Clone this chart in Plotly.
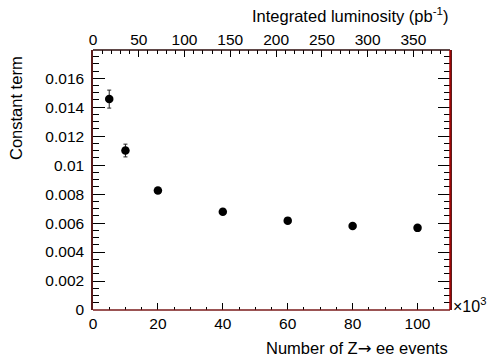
import plotly.graph_objects as go

# Data
n_events_k = [5, 10, 20, 40, 60, 80, 100]          # Number of Z->ee events (x10^3)
constant_term = [0.01456, 0.01101, 0.00825, 0.00678, 0.00617, 0.00580, 0.00567]
constant_err = [0.00062, 0.00044, 0.00020, 0.00015, 0.00012, 0.00010, 0.00010]

x_range = [0, 110]
lumi_range = [0, 390]
y_range = [0, 0.01795]

FONT = "Liberation Sans, Arial, Helvetica, sans-serif"

fig = go.Figure()
fig.add_trace(go.Scatter(
    x=n_events_k, y=constant_term, mode="markers",
    marker=dict(color="black", size=8.5, symbol="circle"),
    error_y=dict(type="data", array=constant_err, visible=True,
                 color="#222222", thickness=1, width=2),
    showlegend=False, hoverinfo="skip"))
# invisible trace to attach the top axis
fig.add_trace(go.Scatter(x=lumi_range, y=[None, None], xaxis="x2",
                         mode="markers", showlegend=False, hoverinfo="skip"))

fig.update_layout(
    width=488, height=359,
    margin=dict(l=92.5, r=38, t=50, b=49, autoexpand=False),
    paper_bgcolor="white", plot_bgcolor="white",
    font=dict(family=FONT, size=15.5, color="black"),
    xaxis=dict(range=x_range, showgrid=False, zeroline=False, automargin=False,
               ticks="inside", ticklen=7, tickwidth=1, tickcolor="black",
               tick0=0, dtick=20, showline=False,
               minor=dict(dtick=5, ticks="inside", ticklen=3.5, tickcolor="black"),
               tickfont=dict(size=15.5), ticklabelstandoff=2),
    xaxis2=dict(range=lumi_range, overlaying="x", side="top", showgrid=False,
                automargin=False,
                zeroline=False, ticks="inside", ticklen=7, tickcolor="black",
                tick0=0, dtick=50, showline=False,
                minor=dict(dtick=10, ticks="inside", ticklen=3.5, tickcolor="black"),
                tickfont=dict(size=15.5), ticklabelstandoff=1),
    yaxis=dict(range=y_range, showgrid=False, zeroline=False, automargin=False,
               ticks="inside", ticklen=12, tickcolor="black",
               tick0=0, dtick=0.002, showline=True, linecolor="#5b1b1b",
               linewidth=1.5, mirror="ticks", tickformat="~g",
               minor=dict(dtick=0.0005, ticks="inside", ticklen=6, tickcolor="black"),
               tickfont=dict(size=15.5), ticklabelstandoff=4),
)

# frame lines
fig.add_shape(type="line", xref="paper", yref="paper", x0=0, x1=1, y0=0, y1=0,
              line=dict(color="#7a1a1a", width=1.5), layer="above")
fig.add_shape(type="line", xref="paper", yref="paper", x0=0, x1=1, y0=1, y1=1,
              line=dict(color="#2a0a0a", width=1.5), layer="above")
fig.add_shape(type="line", xref="paper", yref="paper", x0=1, x1=1, y0=0, y1=1,
              line=dict(color="#b00000", width=1.5), layer="above")

# titles
fig.add_annotation(text="Number of Z<span style=\"font-family:DejaVu Sans\">\u2192</span> ee events",
                   xref="paper", yref="paper",
                   x=1, y=0, yshift=-38, xanchor="right", yanchor="middle",
                   showarrow=False, font=dict(size=16.5))
fig.add_annotation(text="Integrated luminosity (pb<sup>-1</sup>)", xref="paper", yref="paper",
                   x=1, y=1, yshift=35, xanchor="right", yanchor="middle",
                   showarrow=False, font=dict(size=16.5))
fig.add_annotation(text="\u00d710<sup>3</sup>", xref="paper", yref="paper",
                   x=1, y=0, xshift=1, yshift=5, xanchor="left", yanchor="middle",
                   showarrow=False, font=dict(size=16))
fig.add_annotation(text="Constant term", xref="paper", yref="paper",
                   x=0, y=1, yshift=-4, xshift=-77, xanchor="center", yanchor="top",
                   textangle=-90, showarrow=False, font=dict(size=16.5))

fig.write_html("out.html", config={"displayModeBar": False},
               post_script="document.body.style.margin='0';")
